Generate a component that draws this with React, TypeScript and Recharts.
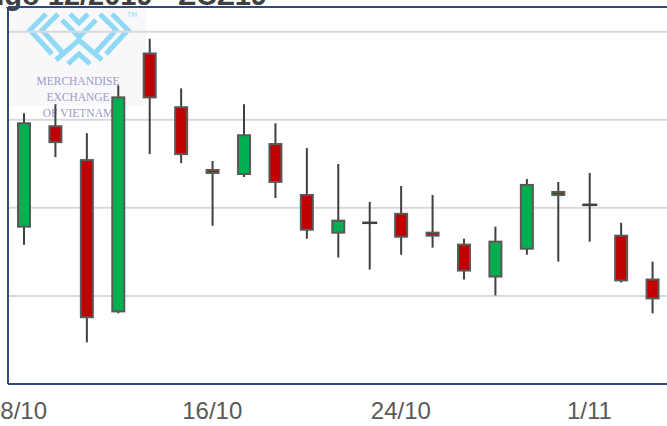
import { ComposedChart, Bar, XAxis, YAxis, CartesianGrid } from 'recharts';

// Phiên giao dịch ngô ZCZ19 (cent/giạ)
const dates = ['8/10', '9/10', '10/10', '11/10', '14/10', '15/10', '16/10', '17/10', '18/10', '21/10', '22/10',
  '23/10', '24/10', '25/10', '28/10', '29/10', '30/10', '31/10', '1/11', '4/11', '5/11'];
const opens = [388.93, 394.63, 392.71, 384.12, 398.76, 395.71, 392.15, 391.92, 393.62, 390.73, 388.59,
  389.15, 389.66, 388.59, 387.91, 386.1, 387.68, 390.9, 390.17, 388.42, 385.93];
const highs = [395.37, 395.88, 394.24, 396.95, 399.6, 396.78, 392.66, 395.88, 394.8, 393.39, 392.49,
  390.34, 391.24, 390.73, 388.25, 388.93, 391.64, 391.47, 391.98, 389.15, 386.95];
const lows = [387.91, 392.88, 382.37, 384.01, 393.05, 392.54, 388.98, 391.75, 390.56, 388.25, 387.18,
  386.5, 387.34, 387.74, 385.93, 385.03, 387.34, 386.95, 388.08, 385.76, 384.01];
const closes = [394.8, 393.73, 383.79, 396.27, 396.27, 393.05, 391.98, 394.12, 391.47, 388.76, 389.27,
  389.15, 388.36, 388.42, 386.44, 388.08, 391.3, 390.73, 390.17, 385.88, 384.86];
const yTicks = [380, 385, 390, 395, 400];

const data = dates.map((date, i) => ({
  date,
  open: opens[i],
  high: highs[i],
  low: lows[i],
  close: closes[i],
}));

const GREEN = '#00B050';
const RED = '#C00000';
const FRAME = '#2F4B7E';

const Candle = (props: any) => {
  const { x, y, width, height, payload } = props;
  const { open, close, high, low } = payload;
  const cx = x + width / 2;
  const ratio = height / (high - low);
  const top = y + (high - Math.max(open, close)) * ratio;
  const bot = y + (high - Math.min(open, close)) * ratio;
  return (
    <g>
      <line x1={cx} x2={cx} y1={y} y2={y + height} stroke="#404040" strokeWidth={2} />
      {open === close ? (
        <line x1={x - 1.5} x2={x + width + 1.5} y1={top} y2={top} stroke="#404040" strokeWidth={2.5} />
      ) : (
        <rect
          x={x}
          y={top}
          width={width}
          height={Math.max(bot - top, 1)}
          fill={close > open ? GREEN : RED}
          stroke="#595959"
          strokeWidth={2}
        />
      )}
    </g>
  );
};

const Logo = () => (
  <svg width={667} height={426} style={{ position: 'absolute', left: 0, top: 0 }}>
    <rect x={10} y={8} width={136} height={98} fill="#F8F8FA" />
    <g fill="none" stroke="#8FD9F5" strokeWidth={5} strokeLinejoin="miter">
      <polyline points="46,14 30,30 52,54" />
      <polyline points="58,14 42,30 62,52" />
      <polyline points="62,20 79,37 96,20" />
      <polyline points="70,14 79,23 88,14" />
      <polyline points="112,14 128,30 106,54" />
      <polyline points="100,14 116,30 96,52" />
      <polyline points="56,60 79,40 102,60" />
      <polyline points="68,64 79,54 90,64" />
    </g>
    <text x={127} y={17} fontSize={7} fill="#8FD9F5" fontFamily="Liberation Sans">TM</text>
    <g fontFamily="Liberation Serif" fontSize={11.5} fill="#9C9AC4" textAnchor="middle">
      <text x={78} y={85}>MERCHANDISE</text>
      <text x={78} y={101}>EXCHANGE</text>
      <text x={78} y={117}>OF VIETNAM</text>
    </g>
  </svg>
);

export default function App() {
  return (
    <div style={{ position: 'absolute', left: 0, top: 0, width: 667, height: 426, overflow: 'hidden', background: '#fff' }}>
      <Logo />
      <svg width={667} height={40} style={{ position: 'absolute', left: 0, top: 0 }}>
        <text x={267} y={5} textAnchor="end" fontFamily="Liberation Sans" fontWeight="bold" fontSize={29} fill="#404040">
          Giá ngô 12/2019 - ZCZ19
        </text>
      </svg>
      <div style={{ position: 'absolute', left: 0, top: 0 }}>
        <ComposedChart width={668} height={426} data={data} margin={{ top: 6, right: 0, left: 0, bottom: 0 }}>
          <CartesianGrid vertical={false} stroke="#D9D9D9" strokeWidth={2} />
          <XAxis
            dataKey="date"
            interval={5}
            height={42}
            tickLine={false}
            tickMargin={12}
            axisLine={{ stroke: FRAME, strokeWidth: 2 }}
            tick={{ fontSize: 24, fill: '#595959', fontFamily: 'Liberation Sans' }}
          />
          <XAxis
            xAxisId="top"
            dataKey="date"
            orientation="top"
            height={1}
            tickLine={false}
            tickFormatter={() => ''}
            axisLine={{ stroke: FRAME, strokeWidth: 2 }}
          />
          <YAxis
            type="number"
            domain={[380, 401.4]}
            ticks={yTicks}
            allowDataOverflow
            width={8}
            tickLine={false}
            tickFormatter={() => ''}
            axisLine={{ stroke: FRAME, strokeWidth: 2 }}
          />
          <Bar
            dataKey={(d: any) => [d.low, d.high]}
            barSize={12}
            shape={<Candle />}
            isAnimationActive={false}
          />
        </ComposedChart>
      </div>
    </div>
  );
}
